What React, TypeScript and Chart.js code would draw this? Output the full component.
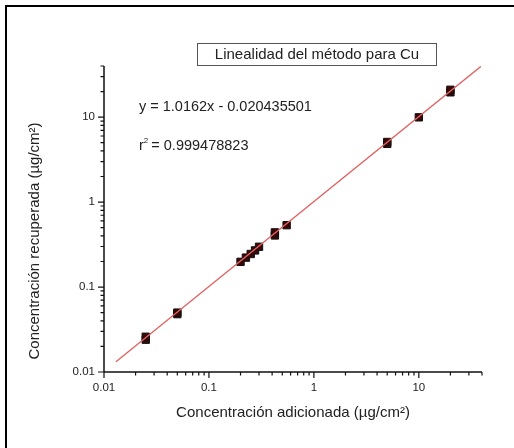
import React, { useEffect, useRef } from "react";
import { Chart, registerables } from "chart.js";

Chart.register(...registerables);

// Data
const addedX = [0.025, 0.025, 0.05, 0.05, 0.2, 0.225, 0.25, 0.275, 0.3, 0.425, 0.425, 0.55, 5, 5, 10, 20, 20];
const recoveredY = [0.024, 0.026, 0.048, 0.05, 0.198, 0.222, 0.245, 0.27, 0.298, 0.405, 0.44, 0.535, 4.85, 5.1, 9.95, 19.6, 21];
const fitX = [0.013, 39];
const fitY = [0.0132, 39.6];
const majorTickValues = [0.01, 0.1, 1, 10];
const majorTickLabels = ["0.01", "0.1", "1", "10"];
const axisMin = 0.01;
const axisMax = 40;

const chartTitle = "Linealidad del método para Cu";
const equationText = "y = 1.0162x - 0.020435501";
const r2Label = "r";
const r2Value = " = 0.999478823";
const xTitle = "Concentración adicionada (\u00b5g/cm\u00b2)";
const yTitle = "Concentración recuperada (\u00b5g/cm\u00b2)";

const FONT = "'Liberation Sans', Arial, sans-serif";

function allTicks(): { v: number; major: boolean }[] {
  const out: { v: number; major: boolean }[] = [];
  for (let e = -2; e <= 1; e++) {
    for (let m = 1; m <= 9; m++) {
      const v = Number((m * Math.pow(10, e)).toPrecision(3));
      if (v >= axisMin - 1e-12 && v <= axisMax + 1e-9) out.push({ v, major: m === 1 });
    }
  }
  return out;
}

const decorPlugin = {
  id: "decor",
  beforeDraw(chart: any) {
    const ctx = chart.ctx;
    ctx.save();
    ctx.fillStyle = "#ffffff";
    ctx.fillRect(0, 0, chart.width, chart.height);
    ctx.fillStyle = "#000000";
    ctx.fillRect(5, 5, 2, chart.height - 5);
    ctx.fillRect(5, 5, chart.width - 5, 2);
    ctx.restore();
  },
  beforeDatasetsDraw(chart: any) {
    const ctx = chart.ctx;
    const xs = chart.scales.x;
    const ys = chart.scales.y;
    const area = chart.chartArea;
    ctx.save();
    ctx.strokeStyle = "#111";
    ctx.lineWidth = 1.5;
    // axis lines
    ctx.beginPath();
    ctx.moveTo(area.left, area.top);
    ctx.lineTo(area.left, area.bottom);
    ctx.moveTo(area.left, area.bottom);
    ctx.lineTo(area.right, area.bottom);
    ctx.stroke();
    // ticks
    ctx.lineWidth = 1.2;
    ctx.beginPath();
    for (const t of allTicks()) {
      const len = t.major ? 6 : 3.5;
      const px = xs.getPixelForValue(t.v);
      ctx.moveTo(px, area.bottom);
      ctx.lineTo(px, area.bottom + len);
      const py = ys.getPixelForValue(t.v);
      ctx.moveTo(area.left, py);
      ctx.lineTo(area.left - len, py);
    }
    ctx.stroke();
    // tick labels
    ctx.fillStyle = "#222";
    ctx.font = `11.5px ${FONT}`;
    ctx.textBaseline = "middle";
    majorTickValues.forEach((v, i) => {
      ctx.textAlign = "center";
      ctx.fillText(majorTickLabels[i], xs.getPixelForValue(v), area.bottom + 16);
      ctx.textAlign = "right";
      ctx.fillText(majorTickLabels[i], area.left - 9, ys.getPixelForValue(v));
    });
    // axis titles
    ctx.font = `15px ${FONT}`;
    ctx.textAlign = "center";
    ctx.fillText(xTitle, (area.left + area.right) / 2, area.bottom + 41);
    ctx.save();
    ctx.translate(35, 241);
    ctx.rotate(-Math.PI / 2);
    ctx.fillText(yTitle, 0, 0);
    ctx.restore();
    // title box
    ctx.strokeStyle = "#555";
    ctx.lineWidth = 1;
    ctx.strokeRect(197.5, 43.5, 239, 22);
    ctx.fillText(chartTitle, 317, 54.5);
    // annotation
    ctx.font = `14.5px ${FONT}`;
    ctx.textAlign = "left";
    ctx.fillText(equationText, 139, 107);
    ctx.fillText(r2Label, 139, 146);
    const rw = ctx.measureText(r2Label).width;
    ctx.font = `8px ${FONT}`;
    ctx.fillText("2", 139 + rw, 141);
    const sw = ctx.measureText("2").width;
    ctx.font = `14.5px ${FONT}`;
    ctx.fillText(r2Value, 139 + rw + sw - 1, 146);
    ctx.restore();
  },
};

export default function App() {
  const ref = useRef<HTMLCanvasElement | null>(null);
  useEffect(() => {
    if (!ref.current) return;
    const chart = new Chart(ref.current, {
      type: "scatter",
      data: {
        datasets: [
          {
            type: "line",
            data: fitX.map((x, i) => ({ x, y: fitY[i] })),
            borderColor: "#e06464",
            borderWidth: 1.3,
            pointRadius: 0,
            fill: false,
          } as any,
          {
            type: "scatter",
            data: addedX.map((x, i) => ({ x, y: recoveredY[i] })),
            pointStyle: "rect",
            pointRadius: 5.2,
            backgroundColor: "#3a0606",
            borderColor: "#111",
            borderWidth: 1,
          },
        ],
      },
      options: {
        responsive: false,
        animation: false,
        layout: { padding: { left: 104, right: 32, top: 66, bottom: 76 } },
        plugins: { legend: { display: false }, tooltip: { enabled: false } },
        scales: {
          x: { type: "logarithmic", min: axisMin, max: axisMax, display: false },
          y: { type: "logarithmic", min: axisMin, max: axisMax, display: false },
        },
      },
      plugins: [decorPlugin],
    });
    return () => chart.destroy();
  }, []);
  return (
    <div style={{ position: "absolute", left: 0, top: 0, width: 514, height: 448 }}>
      <canvas ref={ref} width={514} height={448} />
    </div>
  );
}
